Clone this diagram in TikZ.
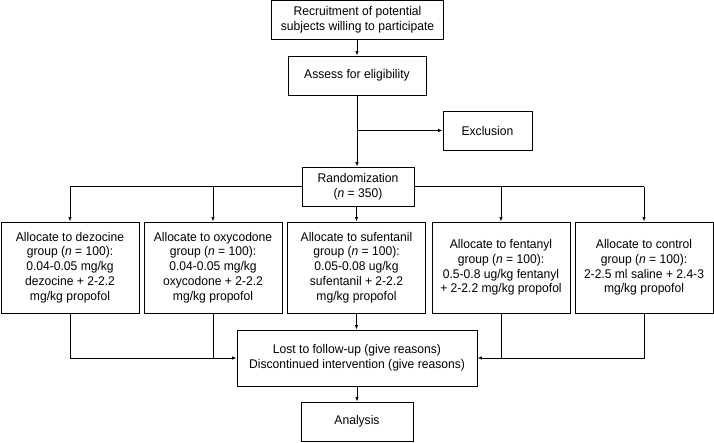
\documentclass[tikz,border=0pt]{standalone}
\usepackage{fontspec}
\setmainfont{Liberation Sans}[FakeStretch=0.96]
\usepackage{tikz}
\usetikzlibrary{positioning, arrows.meta}

\begin{document}
\begin{tikzpicture}[
    x=1pt, y=-1pt,
    box_style/.style={draw, line width=0.9pt, align=center, inner sep=2pt,
        font=\fontsize{12.6}{14.8}\selectfont},
    group_style/.style={box_style, minimum width=138pt, minimum height=91pt},
    arrow_style/.style={line width=0.9pt, -{Latex[length=4.5pt, width=3.5pt]}},
    line_style/.style={line width=0.9pt}
]
    \useasboundingbox (0,0) rectangle (714,442);

    % Top of the chart
    \node[box_style, minimum width=172pt, minimum height=39pt] (recruit) at (357.5,19.5)
        {Recruitment of potential\\subjects willing to participate};
    \node[box_style, minimum width=138pt, minimum height=39pt] (assess) at (357,75.5)
        {Assess for eligibility};
    \node[box_style, minimum width=89pt, minimum height=39pt] (exclusion) at (487.5,130.5)
        {Exclusion};
    \node[box_style, minimum width=112pt, minimum height=39pt] (random) at (358,186.5)
        {Randomization\\(\textit{n} = 350)};

    % Groups
    \node[group_style] (dezocine) at (70,267.5)
        {Allocate to dezocine\\group (\textit{n} = 100):\\0.04-0.05 mg/kg\\dezocine + 2-2.2\\mg/kg propofol};
    \node[group_style] (oxycodone) at (213,267.5)
        {Allocate to oxycodone\\group (\textit{n} = 100):\\0.04-0.05 mg/kg\\oxycodone + 2-2.2\\mg/kg propofol};
    \node[group_style] (sufentanil) at (356.5,267.5)
        {Allocate to sufentanil\\group (\textit{n} = 100):\\0.05-0.08 ug/kg\\sufentanil + 2-2.2\\mg/kg propofol};
    \node[group_style] (fentanyl) at (501,267.5)
        {Allocate to fentanyl\\group (\textit{n} = 100):\\0.5-0.8 ug/kg fentanyl\\+ 2-2.2 mg/kg propofol};
    \node[group_style] (control) at (644,267.5)
        {Allocate to control\\group (\textit{n} = 100):\\2-2.5 ml saline + 2.4-3\\mg/kg propofol};

    % Bottom of the chart
    \node[box_style, minimum width=240pt, minimum height=56pt] (lost) at (357,358)
        {Lost to follow-up (give reasons)\\Discontinued intervention (give reasons)};
    \node[box_style, minimum width=112pt, minimum height=39pt] (analysis) at (357,421.5)
        {Analysis};

    % Connectors
    \coordinate (split) at (assess.south |- exclusion.west);
    \draw[arrow_style] (recruit.south -| assess.north) -- (assess.north);
    \draw[arrow_style] (assess.south) -- (assess.south |- random.north);
    \draw[arrow_style] (split) -- (exclusion.west);

    \draw[line_style] (random.west) -- (dezocine.north |- random.west);
    \draw[line_style] (random.east) -- (control.north |- random.east);
    \draw[arrow_style] (dezocine.north |- random.west) -- (dezocine.north);
    \draw[arrow_style] (oxycodone.north |- random.west) -- (oxycodone.north);
    \draw[arrow_style] (random.south -| sufentanil.north) -- (sufentanil.north);
    \draw[arrow_style] (fentanyl.north |- random.east) -- (fentanyl.north);
    \draw[arrow_style] (control.north |- random.east) -- (control.north);

    \draw[arrow_style] (dezocine.south) |- (lost.west);
    \draw[line_style] (oxycodone.south) -- (oxycodone.south |- lost.west);
    \draw[arrow_style] (sufentanil.south) -- (sufentanil.south |- lost.north);
    \draw[arrow_style] (control.south) |- (lost.east);
    \draw[line_style] (fentanyl.south) -- (fentanyl.south |- lost.east);
    \draw[arrow_style] (lost.south) -- (analysis.north);
\end{tikzpicture}
\end{document}
